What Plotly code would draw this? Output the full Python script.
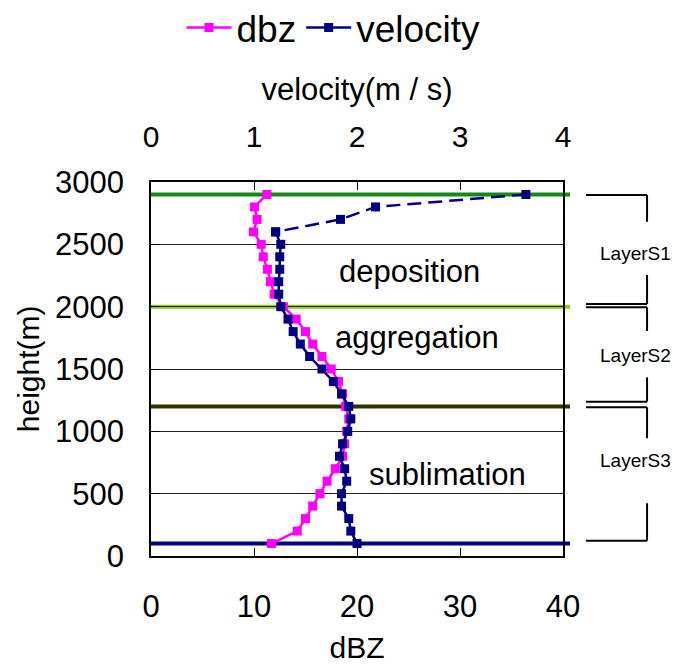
import plotly.graph_objects as go

heights = [2900, 2800, 2700, 2600, 2500, 2400, 2300, 2200, 2100, 2000,
           1900, 1800, 1700, 1600, 1500, 1400, 1300, 1200, 1100, 1000,
           900, 800, 700, 600, 500, 400, 300, 200, 100]
dbz = [11.25, 10.05, 10.3, 9.95, 10.7, 10.9, 11.3, 11.6, 11.95, 12.85,
       14.1, 15.0, 15.7, 16.6, 17.5, 18.2, 18.6, 18.9, 19.2, 19.0,
       18.8, 18.6, 17.9, 17.1, 16.4, 15.7, 15.0, 14.2, 11.7]
velocity = [3.64, 2.18, 1.84, 1.21, 1.26, 1.25, 1.25, 1.24, 1.24, 1.26,
            1.33, 1.38, 1.45, 1.54, 1.66, 1.77, 1.85, 1.92, 1.94, 1.91,
            1.86, 1.83, 1.88, 1.90, 1.85, 1.85, 1.92, 1.94, 2.00]
dashed_until = 4  # first 4 velocity points joined with dashed line

layer_heights = [2900, 2000, 1200, 100]
layer_colors = ["#138a13", "#99cc00", "#333300", "#000080"]
process_labels = ["deposition", "aggregation", "sublimation"]
process_pos = [(25.05, 2280), (25.8, 1750), (28.8, 650)]
layer_labels = ["LayerS1", "LayerS2", "LayerS3"]
layer_label_y = [2430, 1612, 770]
# bracket pieces (y in data units): top, upper-vertical end, lower-vertical start, bottom
brackets = [(2896, 2681, 2254, 2021), (1995, 1805, 1433, 1238), (1193, 944, 423, 123)]

FONT = "Arial, Liberation Sans, sans-serif"
MAG = "#ff00ff"
NAVY = "#000080"

fig = go.Figure()
fig.add_trace(go.Scatter(x=dbz, y=heights, name="dbz", mode="lines+markers",
                         line=dict(color=MAG, width=2.5),
                         marker=dict(symbol="square", size=9, color=MAG)))
fig.add_trace(go.Scatter(x=velocity[dashed_until - 1:], y=heights[dashed_until - 1:],
                         name="velocity", mode="lines+markers", xaxis="x2",
                         line=dict(color=NAVY, width=2.5),
                         marker=dict(symbol="square", size=9, color=NAVY)))
fig.add_trace(go.Scatter(x=velocity[:dashed_until], y=heights[:dashed_until],
                         name="velocity", mode="lines+markers", xaxis="x2", showlegend=False,
                         line=dict(color=NAVY, width=2.5, dash="14px,7px"),
                         marker=dict(symbol="square", size=9, color=NAVY)))

shapes = []
for h, c in zip(layer_heights, layer_colors):
    shapes.append(dict(type="line", xref="paper", yref="y", x0=-0.003, x1=1.017, y0=h, y1=h,
                       line=dict(color=c, width=4), layer="between"))
bx0, bx1 = 1.056, 1.204
for top, v1, v2, bot in brackets:
    blk = dict(color="black", width=2)
    shapes.append(dict(type="line", xref="paper", yref="y", x0=bx0, x1=bx1, y0=top, y1=top, line=blk))
    shapes.append(dict(type="line", xref="paper", yref="y", x0=bx1, x1=bx1, y0=top, y1=v1, line=blk))
    shapes.append(dict(type="line", xref="paper", yref="y", x0=bx1, x1=bx1, y0=v2, y1=bot, line=blk))
    shapes.append(dict(type="line", xref="paper", yref="y", x0=bx0, x1=bx1, y0=bot, y1=bot, line=blk))

annotations = []
for t, (x, y) in zip(process_labels, process_pos):
    annotations.append(dict(text=t, x=x, y=y, xref="x", yref="y", showarrow=False,
                            xanchor="center", yanchor="middle",
                            font=dict(family=FONT, size=31, color="black")))
for t, y in zip(layer_labels, layer_label_y):
    annotations.append(dict(text=t, x=1.175, y=y, xref="paper", yref="y", showarrow=False,
                            xanchor="center", yanchor="middle",
                            font=dict(family=FONT, size=19, color="black")))
annotations.append(dict(text="height(m)", x=-0.298, y=0.5, xref="paper", yref="paper",
                        textangle=-90, showarrow=False, xanchor="center", yanchor="middle",
                        font=dict(family=FONT, size=30, color="black")))

fig.update_layout(
    width=674, height=668,
    margin=dict(l=151, r=111, t=182, b=112, autoexpand=False),
    paper_bgcolor="white", plot_bgcolor="white",
    font=dict(family=FONT, color="black"),
    shapes=shapes, annotations=annotations,
    legend=dict(orientation="h", x=0.443, xanchor="center", y=1.412, yanchor="middle",
                font=dict(size=37, family=FONT), bgcolor="rgba(0,0,0,0)", itemwidth=45),
    xaxis=dict(range=[0, 40], dtick=10, showgrid=False, zeroline=False, automargin=False,
               showline=True, linecolor="black", linewidth=1.5, mirror=True,
               ticks="inside", ticklen=8, tickcolor="black",
               tickfont=dict(size=31), ticklabelstandoff=22,
               title=dict(text="dBZ", font=dict(size=30), standoff=14)),
    xaxis2=dict(range=[0, 4], dtick=1, overlaying="x", side="top", showgrid=False,
                zeroline=False, automargin=False, ticks="inside", ticklen=8, tickcolor="black",
                tickfont=dict(size=30), ticklabelstandoff=28,
                title=dict(text="velocity(m / s)", font=dict(size=31), standoff=10)),
    yaxis=dict(range=[0, 3000], dtick=500, showgrid=True, gridcolor="#222", gridwidth=1,
               zeroline=False, automargin=False, showline=True, linecolor="black",
               linewidth=1.5, mirror=True,
               ticks="inside", ticklen=8, tickcolor="black",
               tickfont=dict(size=31), ticklabelstandoff=19),
)

fig.write_html("out.html")
